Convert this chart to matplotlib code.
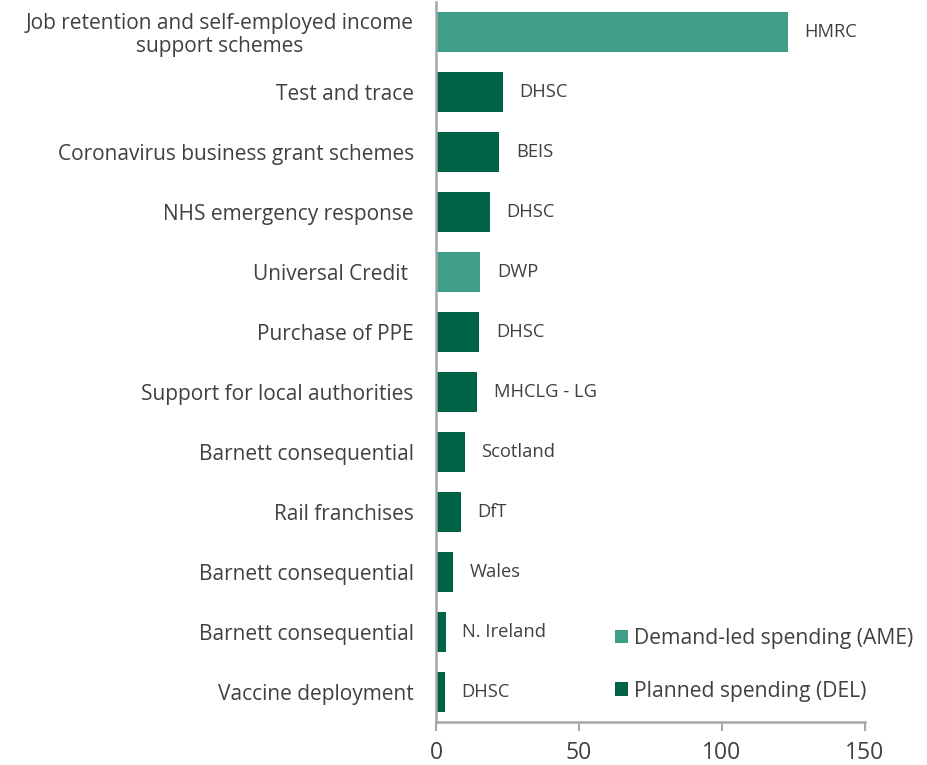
import matplotlib

matplotlib.use("Agg")
import matplotlib.pyplot as plt
from matplotlib.patches import Patch

# Covid-19 spending by programme, £ billion
categories = [
    "Job retention and self-employed income\nsupport schemes",
    "Test and trace",
    "Coronavirus business grant schemes",
    "NHS emergency response",
    "Universal Credit ",
    "Purchase of PPE",
    "Support for local authorities",
    "Barnett consequential",
    "Rail franchises",
    "Barnett consequential",
    "Barnett consequential",
    "Vaccine deployment",
]
values = [123.0, 23.4, 22.2, 18.8, 15.5, 15.2, 14.4, 10.0, 8.6, 6.0, 3.4, 3.1]
departments = ["HMRC", "DHSC", "BEIS", "DHSC", "DWP", "DHSC", "MHCLG - LG",
               "Scotland", "DfT", "Wales", "N. Ireland", "DHSC"]
spend_type = ["AME", "DEL", "DEL", "DEL", "AME", "DEL", "DEL",
              "DEL", "DEL", "DEL", "DEL", "DEL"]
xticks = [0, 50, 100, 150]

COLOURS = {"AME": "#409E88", "DEL": "#006246"}
LEGEND_LABELS = {"AME": "Demand-led spending (AME)", "DEL": "Planned spending (DEL)"}
TEXT = "#404040"
AXIS = "#A6A6A6"

plt.rcParams["font.family"] = ["Open Sans", "DejaVu Sans"]

fig = plt.figure(figsize=(9.28, 7.65), dpi=100)
ax = fig.add_axes([0.4698, 0.0562, 0.4623, 0.9412])

pos = list(range(len(categories)))
ax.barh(pos, values, height=0.667, color=[COLOURS[t] for t in spend_type], zorder=2)

for y, v, dept in zip(pos, values, departments):
    ax.annotate(dept, (v, y), xytext=(12, 0), textcoords="offset points",
                va="center", ha="left", fontsize=13.2, color=TEXT)

ax.set_ylim(len(categories) - 0.5, -0.5)
ax.set_xlim(0, 150)
ax.set_xticks(xticks)
ax.set_yticks(pos)
ax.set_yticklabels(categories, fontsize=15, color=TEXT)
for lbl in ax.get_yticklabels():
    lbl.set_multialignment("center")
    lbl.set_linespacing(1.1)
ax.tick_params(axis="y", length=0, pad=16)
ax.tick_params(axis="x", length=6.5, width=1.5, color=AXIS, labelsize=16.5,
               labelcolor=TEXT, pad=7)

for side in ("top", "right"):
    ax.spines[side].set_visible(False)
for side in ("left", "bottom"):
    ax.spines[side].set_color(AXIS)
    ax.spines[side].set_linewidth(1.8)

handles = [Patch(facecolor=COLOURS[k], edgecolor="none", label=LEGEND_LABELS[k])
           for k in ("AME", "DEL")]
ax.legend(handles=handles, loc="lower left", bbox_to_anchor=(0.6627, 0.083),
          bbox_transform=fig.transFigure, borderpad=0, borderaxespad=0,
          frameon=False, fontsize=15.2, labelcolor=TEXT, handlelength=0.62,
          handleheight=0.62, handletextpad=0.3, labelspacing=1.5)

fig.savefig("out.png", dpi=100)
